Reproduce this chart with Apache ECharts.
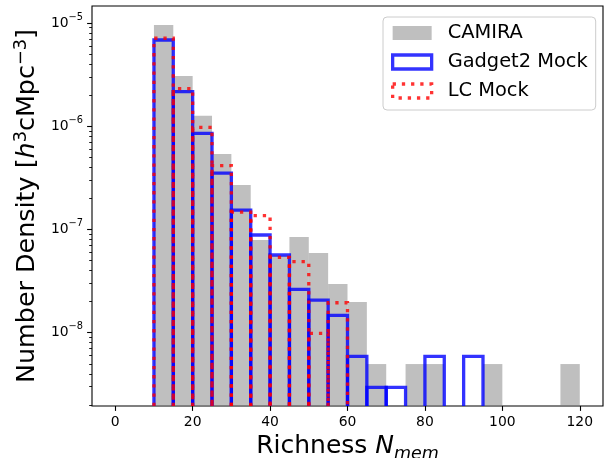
<!DOCTYPE html>
<html>
<head>
<meta charset="utf-8">
<script src="https://cdn.jsdelivr.net/npm/echarts@6/dist/echarts.min.js"></script>
<style>
  html, body { margin: 0; padding: 0; background: #fff; }
  #chart { width: 609px; height: 458px; }
</style>
</head>
<body>
<div id="chart"></div>
<script>
// Richness histograms: number density per 5-member bin (left edges below)
const binLeft = [10, 15, 20, 25, 30, 35, 40, 45, 50, 55, 60, 65, 70, 75, 80, 85, 90, 95, 100, 105, 110, 115];
const binWidth = 5;

const camira = [9.56e-6, 3.07e-6, 1.26e-6, 5.38e-7, 2.70e-7, 7.9e-8, 5.6e-8, 8.45e-8, 5.92e-8, 2.96e-8,
                1.98e-8, 4.97e-9, 0, 4.97e-9, 4.97e-9, 0, 0, 4.97e-9, 0, 0, 0, 4.97e-9];
const gadget2Mock = [6.84e-6, 2.16e-6, 8.54e-7, 3.52e-7, 1.54e-7, 8.84e-8, 5.66e-8, 2.63e-8, 2.07e-8, 1.47e-8,
                     5.9e-9, 2.96e-9, 2.96e-9, 0, 5.9e-9, 0, 5.9e-9, 0, 0, 0, 0, 0];
const lcMock = [7.11e-6, 2.31e-6, 9.76e-7, 4.15e-7, 1.47e-7, 1.36e-7, 5.37e-8, 4.87e-8, 9.86e-9, 1.95e-8,
                0, 0, 0, 0, 0, 0, 0, 0, 0, 0, 0, 0];

const seriesNames = ['CAMIRA', 'Gadget2 Mock', 'LC Mock'];
const xTicks = [0, 20, 40, 60, 80, 100, 120];
const yMajorTicks = [1e-8, 1e-7, 1e-6, 1e-5];
const yMinorTicks = [];
[-9, -8, -7, -6, -5].forEach(function (e) {
  for (let m = 2; m <= 9; m++) yMinorTicks.push(m * Math.pow(10, e));
});

const xMin = -6, xMax = 126;
const yMin = 1.95e-9, yMax = 1.46e-5;

const FONT = 'DejaVu Sans';
const GRAY = 'rgba(128,128,128,0.5)';
const BLUE = 'rgba(0,0,255,0.8)';
const RED = 'rgba(255,0,0,0.8)';
const LW = 3.3;
const DOTS = [3.3, 5.9];

function binData(values) {
  const out = [];
  binLeft.forEach(function (x0, i) {
    if (values[i] > 0) out.push([x0, x0 + binWidth, values[i]]);
  });
  return out;
}

function histSeries(name, values, mode) {
  return {
    type: 'custom',
    name: name,
    data: binData(values),
    encode: { x: [0, 1], y: 2 },
    renderItem: function (params, api) {
      const a = api.coord([api.value(0), api.value(2)]);
      const b = api.coord([api.value(1), api.value(2)]);
      const cs = params.coordSys;
      const bottom = cs.y + cs.height;
      if (mode === 'fill') {
        return {
          type: 'rect',
          shape: { x: a[0], y: a[1], width: b[0] - a[0], height: bottom - a[1] },
          style: { fill: GRAY }
        };
      }
      return {
        type: 'polyline',
        shape: { points: [[a[0], bottom], [a[0], a[1]], [b[0], b[1]], [b[0], bottom]] },
        style: {
          fill: 'none',
          stroke: mode === 'blue' ? BLUE : RED,
          lineWidth: LW,
          lineJoin: 'miter',
          lineCap: 'butt',
          lineDash: mode === 'red' ? DOTS : null
        }
      };
    }
  };
}

const tickLine = { color: '#000', width: 1.1 };

const chart = echarts.init(document.getElementById('chart'), null, { renderer: 'canvas' });
chart.setOption({
  animation: false,
  backgroundColor: '#fff',
  textStyle: { fontFamily: FONT },
  grid: {
    left: 92, right: 6, top: 6, bottom: 52,
    outerBoundsMode: 'none',
    containLabel: false,
    show: true, borderColor: '#000', borderWidth: 1.1, backgroundColor: 'transparent'
  },
  legend: {
    orient: 'vertical',
    left: 383, top: 17,
    padding: [6, 8, 9, 8],
    itemWidth: 39, itemHeight: 14, itemGap: 9,
    backgroundColor: 'rgba(255,255,255,0.8)',
    borderColor: '#cccccc', borderWidth: 1, borderRadius: 4,
    textStyle: { fontFamily: FONT, fontSize: 19.4, color: '#000', lineHeight: 20, padding: [0, 0, 0, 11] },
    data: [
      { name: seriesNames[0], icon: 'rect', itemStyle: { color: GRAY, borderWidth: 0 } },
      { name: seriesNames[1], icon: 'rect', itemStyle: { color: 'rgba(0,0,0,0)', borderColor: BLUE, borderWidth: LW } },
      { name: seriesNames[2], icon: 'rect', itemStyle: { color: 'rgba(0,0,0,0)', borderColor: RED, borderWidth: LW, borderType: DOTS } }
    ]
  },
  xAxis: {
    type: 'value', min: xMin, max: xMax, position: 'bottom',
    axisLine: { show: false, onZero: false },
    splitLine: { show: false },
    axisTick: { show: true, length: 4.9, lineStyle: tickLine, customValues: xTicks },
    axisLabel: { color: '#000', fontSize: 13.9, fontFamily: FONT, margin: 9, customValues: xTicks },
    name: '{t|Richness }{n|N}{sub|mem}',
    nameLocation: 'middle',
    nameGap: 23,
    nameTextStyle: {
      rich: {
        t: { fontSize: 25, fontFamily: FONT, color: '#000', lineHeight: 34, verticalAlign: 'middle' },
        n: { fontSize: 25, fontFamily: FONT, fontStyle: 'italic', color: '#000', lineHeight: 34, verticalAlign: 'middle' },
        sub: { fontSize: 17.5, fontFamily: FONT, fontStyle: 'italic', color: '#000', lineHeight: 34, verticalAlign: 'bottom' }
      }
    }
  },
  yAxis: [
    {
      type: 'log', logBase: 10, min: yMin, max: yMax, position: 'left',
      axisLine: { show: false, onZero: false },
      splitLine: { show: false },
      minorTick: { show: false },
      axisTick: { show: true, length: 4.9, lineStyle: tickLine, customValues: yMajorTicks },
      axisLabel: {
        margin: 9,
        customValues: yMajorTicks,
        formatter: function (v) {
          const e = Math.round(Math.log10(v));
          return '{b|10}{s|\u2212' + Math.abs(e) + '}';
        },
        rich: {
          b: { fontSize: 13.9, fontFamily: FONT, color: '#000', lineHeight: 22, verticalAlign: 'middle' },
          s: { fontSize: 9.8, fontFamily: FONT, color: '#000', lineHeight: 22, verticalAlign: 'top' }
        }
      },
      name: '{t|Number Density [}{i|h}{sup|3}{t|cMpc}{sup|\u22123}{t|]}',
      nameLocation: 'middle',
      nameRotate: 90,
      nameGap: 47,
      nameTextStyle: {
        rich: {
          t: { fontSize: 25.4, fontFamily: FONT, color: '#000', lineHeight: 30, verticalAlign: 'middle' },
          i: { fontSize: 25.4, fontFamily: FONT, fontStyle: 'italic', color: '#000', lineHeight: 30, verticalAlign: 'middle' },
          sup: { fontSize: 17.8, fontFamily: FONT, color: '#000', lineHeight: 30, verticalAlign: 'top' }
        }
      }
    },
    {
      // minor decade ticks (2..9 x 10^n)
      type: 'log', logBase: 10, min: yMin, max: yMax, position: 'left',
      axisLine: { show: false, onZero: false },
      splitLine: { show: false },
      minorTick: { show: false },
      axisLabel: { show: false },
      axisTick: { show: true, length: 2.8, lineStyle: { color: '#000', width: 0.9 },
                  customValues: yMinorTicks.filter(function (v) { return v >= yMin && v <= yMax; }) }
    }
  ],
  series: [
    histSeries(seriesNames[0], camira, 'fill'),
    histSeries(seriesNames[1], gadget2Mock, 'blue'),
    histSeries(seriesNames[2], lcMock, 'red')
  ]
});
</script>
</body>
</html>
